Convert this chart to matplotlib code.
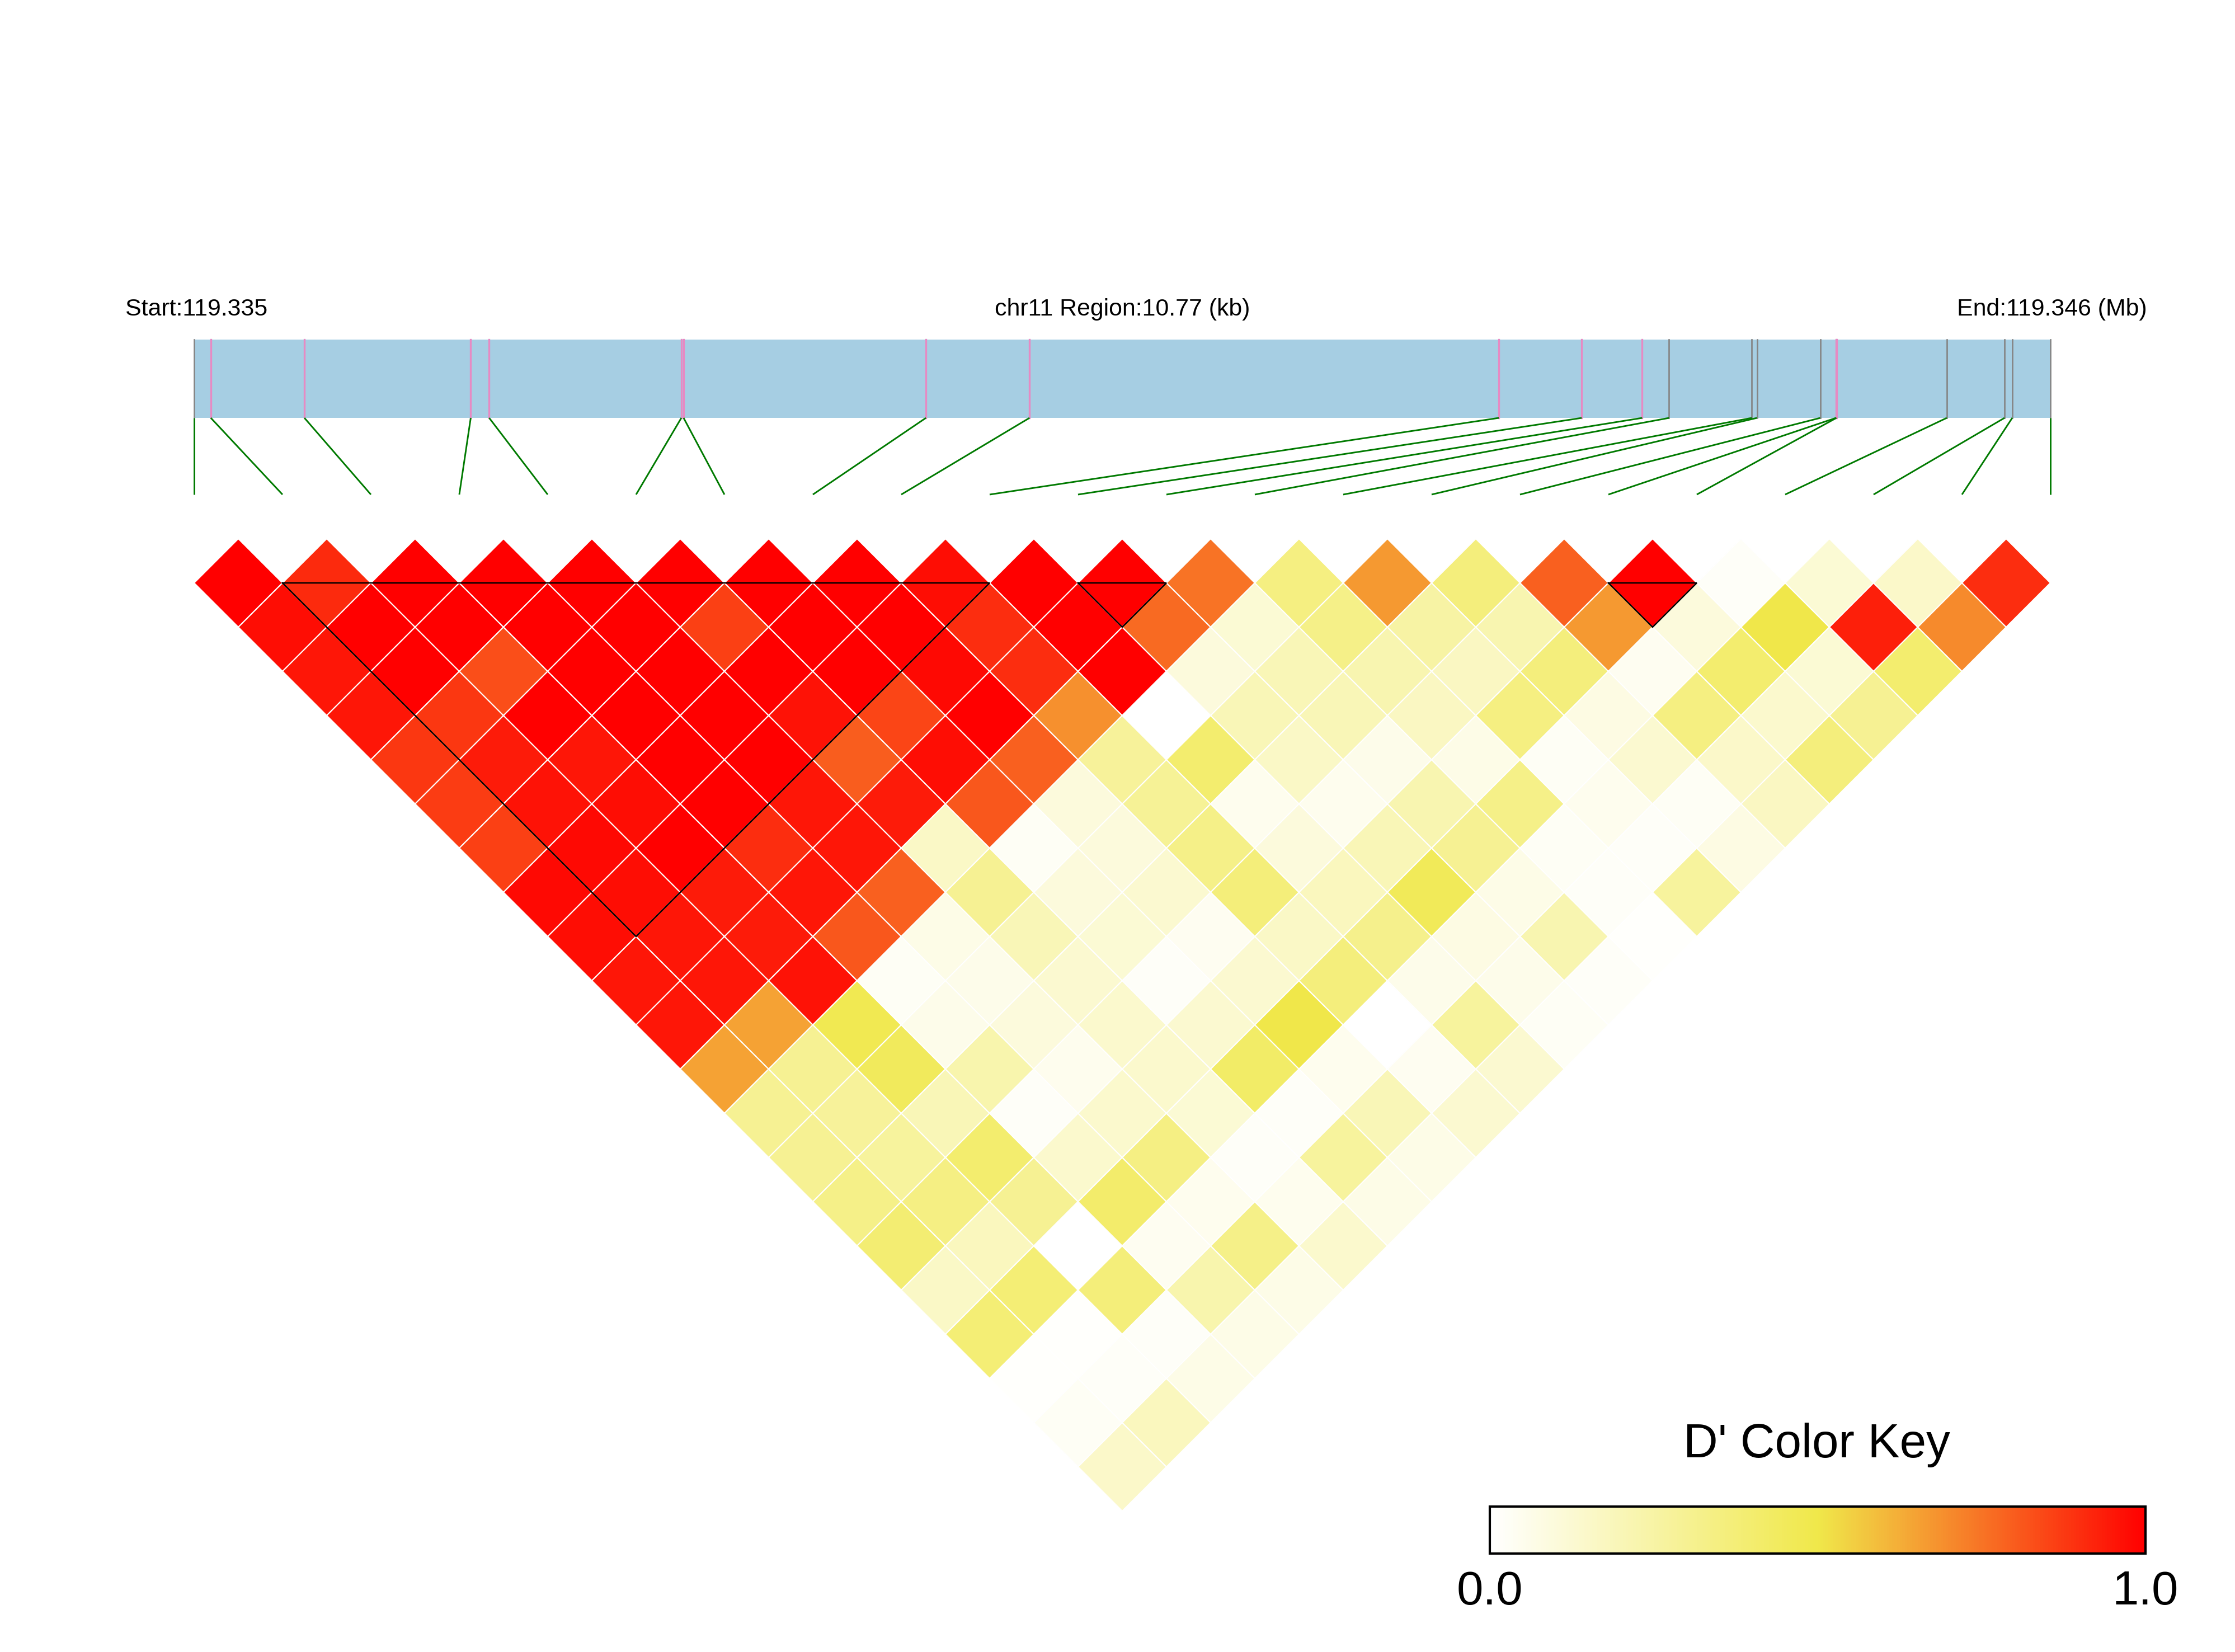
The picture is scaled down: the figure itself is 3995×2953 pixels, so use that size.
import numpy as np
import matplotlib
matplotlib.use("Agg")
import matplotlib.pyplot as plt
from matplotlib.collections import PolyCollection, LineCollection
from matplotlib.colors import LinearSegmentedColormap, Normalize
from matplotlib.patches import Rectangle

plt.rcParams['font.family'] = ['Liberation Sans', 'DejaVu Sans']

# ---------- data ----------
chrom = "chr11"
region_start = 119335400
snp_offset_bp = [0, 97, 640, 1605, 1712, 2827, 2840, 4246, 4847, 7570, 8051,
                 8402, 8558, 9038, 9068, 9435, 9526, 9529, 10169, 10504, 10549, 10770]
snp_mark = ['grey', 'pink', 'pink', 'pink', 'pink', 'pink', 'pink', 'pink', 'pink',
            'pink', 'pink', 'pink', 'grey', 'grey', 'grey', 'grey', 'pink', 'pink',
            'grey', 'grey', 'grey', 'grey']

# D' for SNP i against SNPs i+1 .. 21
dprime_rows = [
    [1.00, 0.97, 0.95, 0.95, 0.88, 0.87, 0.86, 0.98, 0.97, 0.95, 0.95, 0.65, 0.30, 0.30, 0.33, 0.39, 0.16, 0.38, 0.01, 0.03, 0.15],
    [0.91, 1.00, 1.00, 0.88, 0.94, 0.96, 0.98, 0.97, 0.95, 0.95, 0.65, 0.30, 0.28, 0.27, 0.34, 0.18, 0.38, 0.01, 0.02, 0.18],
    [1.00, 1.00, 0.83, 1.00, 0.95, 0.97, 1.00, 0.94, 0.94, 0.96, 0.48, 0.45, 0.20, 0.40, 0.30, 0.00, 0.37, 0.02, 0.07],
    [1.00, 1.00, 1.00, 1.00, 1.00, 1.00, 0.90, 0.95, 0.81, 0.03, 0.06, 0.23, 0.02, 0.14, 0.41, 0.04, 0.23, 0.07],
    [1.00, 1.00, 1.00, 1.00, 1.00, 0.95, 0.95, 0.79, 0.07, 0.06, 0.10, 0.05, 0.14, 0.34, 0.05, 0.33, 0.07],
    [1.00, 0.86, 1.00, 0.96, 0.80, 0.94, 0.16, 0.30, 0.20, 0.13, 0.14, 0.14, 0.12, 0.02, 0.05, 0.14],
    [1.00, 1.00, 1.00, 0.85, 0.97, 0.81, 0.03, 0.10, 0.12, 0.02, 0.13, 0.42, 0.02, 0.27, 0.07],
    [1.00, 1.00, 0.98, 1.00, 0.79, 0.10, 0.10, 0.13, 0.04, 0.13, 0.50, 0.05, 0.20, 0.07],
    [0.97, 0.90, 0.90, 0.69, 0.28, 0.29, 0.33, 0.37, 0.16, 0.36, 0.00, 0.04, 0.13],
    [1.00, 1.00, 1.00, 0.00, 0.40, 0.05, 0.10, 0.18, 0.32, 0.06, 0.27, 0.13],
    [1.00, 0.77, 0.10, 0.20, 0.16, 0.05, 0.20, 0.46, 0.08, 0.06, 0.03],
    [0.75, 0.12, 0.20, 0.20, 0.06, 0.22, 0.30, 0.07, 0.22, 0.02],
    [0.35, 0.33, 0.22, 0.17, 0.07, 0.33, 0.03, 0.02, 0.01],
    [0.67, 0.25, 0.17, 0.35, 0.03, 0.05, 0.02, 0.27],
    [0.36, 0.22, 0.36, 0.08, 0.13, 0.03, 0.08],
    [0.79, 0.67, 0.04, 0.35, 0.15, 0.17],
    [1.00, 0.10, 0.40, 0.14, 0.36],
    [0.02, 0.50, 0.12, 0.30],
    [0.12, 0.93, 0.40],
    [0.15, 0.70],
    [0.90],
]

# haplotype blocks (first SNP, last SNP)
blocks = [(1, 9), (10, 11), (16, 17)]

# ---------- helpers ----------
def build_matrix(rows):
    n = len(rows) + 1
    D = np.full((n, n), np.nan)
    for i, r in enumerate(rows):
        D[i, i + 1:] = r
    return D

def diamond(i, j):
    u = (i + j) / 2.0
    v = -(j - i) / 2.0
    return [(u - 0.5, v), (u, v + 0.5), (u + 0.5, v), (u, v - 0.5)]

# ---------- main ----------
def main():
    D = build_matrix(dprime_rows)
    n = D.shape[0]
    pos = np.array(snp_offset_bp) + region_start
    start, end = pos[0], pos[-1]
    pos_u = (pos - start) / (end - start) * (n - 1)

    cmap = LinearSegmentedColormap.from_list(
        'dprime', [(0.0, '#FFFFFF'), (0.5, '#F0E84A'), (1.0, '#FF0000')], N=256)
    norm = Normalize(0, 1)

    fig = plt.figure(figsize=(3995 / 300, 2953 / 300), dpi=300)
    ax = fig.add_axes([0, 0, 1, 1])
    ax.set_xlim(-2.196, 23.089)
    ax.set_ylim(-12.595, 6.095)
    ax.axis('off')

    # LD diamonds
    verts, vals = [], []
    for i in range(n):
        for j in range(i + 1, n):
            verts.append(diamond(i, j))
            vals.append(D[i, j])
    pc = PolyCollection(verts, cmap=cmap, norm=norm, edgecolors='white',
                        linewidths=0.5)
    pc.set_array(np.array(vals))
    ax.add_collection(pc)

    # block outlines
    for a, b in blocks:
        tri = [(a, -0.5), (b, -0.5), ((a + b) / 2.0, -0.5 - (b - a) / 2.0), (a, -0.5)]
        xs, ys = zip(*tri)
        ax.plot(xs, ys, color='black', lw=0.6, zorder=4, solid_joinstyle='miter')

    # ---------- gene / region bar ----------
    bar_top, bar_bot, link_bot = 2.253, 1.367, 0.5
    ax.add_patch(Rectangle((0, bar_bot), n - 1, bar_top - bar_bot,
                           facecolor='#A6CEE3', edgecolor='none', zorder=1))
    mark_col = {'pink': '#E78AC3', 'grey': '#858585'}
    mark_lw = {'pink': 0.8, 'grey': 0.65}
    for k in range(n):
        ax.plot([pos_u[k], pos_u[k]], [bar_bot, bar_top], color=mark_col[snp_mark[k]],
                lw=mark_lw[snp_mark[k]], zorder=2)
    links = [[(pos_u[k], bar_bot), (k, link_bot)] for k in range(n)]
    ax.add_collection(LineCollection(links, colors='#007A00', linewidths=0.7))

    # ---------- labels ----------
    ax.text(-0.78, 2.525, f"Start:{start / 1e6:.3f}", ha='left', va='baseline', fontsize=10.3)
    ax.text((n - 1) / 2.0, 2.525, f"{chrom} Region:{(end - start) / 1000:.2f} (kb)",
            ha='center', va='baseline', fontsize=10.3)
    ax.text(22.09, 2.525, f"End:{end / 1e6:.3f} (Mb)", ha='right', va='baseline', fontsize=10.3)

    # ---------- colour key ----------
    cax = fig.add_axes([2663 / 3995, 1 - 2777 / 2953, 1172 / 3995, 84 / 2953])
    cb = fig.colorbar(pc, cax=cax, orientation='horizontal')
    cb.outline.set_linewidth(1.0)
    cb.set_ticks([0, 1])
    cb.ax.set_xticklabels(['0.0', '1.0'])
    cb.ax.tick_params(length=0, pad=7, labelsize=20.5)
    ax.text(18.36, -10.39, "D' Color Key", ha='center', va='baseline', fontsize=20.5)

    fig.savefig("out.png", dpi=300)

if __name__ == "__main__":
    main()
